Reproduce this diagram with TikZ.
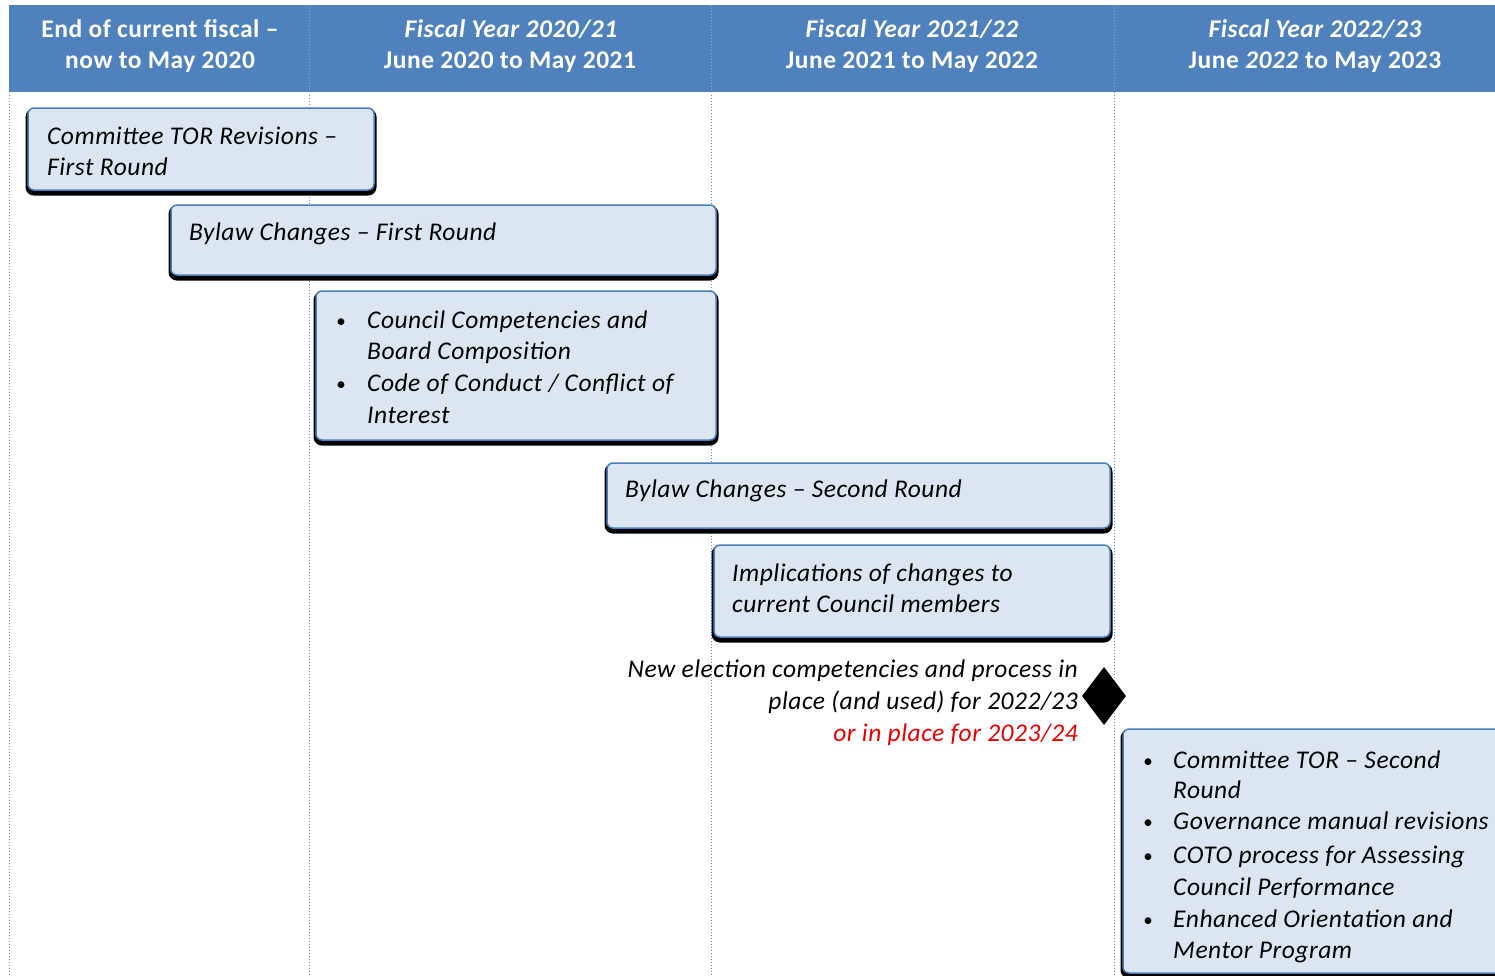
\documentclass[tikz,border=0pt]{standalone}
\usepackage{fontspec}
\setmainfont{Carlito}[LetterSpace=2.0]
\usetikzlibrary{shapes.geometric}
\definecolor{hdrblue}{RGB}{79,129,189}
\definecolor{boxfill}{RGB}{220,230,242}
\definecolor{boxedge}{RGB}{74,126,187}
\definecolor{gridblue}{RGB}{91,140,214}
\definecolor{hdrgrid}{RGB}{140,175,225}
\definecolor{milered}{RGB}{230,0,0}
\newcommand{\bodyfont}{\fontsize{25.5}{30}\selectfont}
\begin{document}
\begin{tikzpicture}[x=1pt,y=-1pt,
  taskbox/.style={draw=boxedge, line width=1.5pt, fill=boxfill, rounded corners=6pt,
    anchor=north west, inner sep=0pt, outer sep=0pt,
    preaction={fill=black, draw=black, line width=5pt, transform canvas={yshift=-3pt}}},
  boxtext/.style={anchor=base west, inner sep=0pt, font=\bodyfont\itshape},
  bulletmark/.style={anchor=base, inner sep=0pt, font=\fontsize{19}{24}\selectfont},
  hdrtext/.style={anchor=base, inner sep=0pt, text=white, font=\bodyfont\bfseries},
  miletext/.style={anchor=base east, inner sep=0pt, font=\bodyfont\itshape},
  gridline/.style={draw=gridblue, line width=1pt, dash pattern=on 1pt off 2pt},
  hdrline/.style={draw=hdrgrid, line width=1pt, dash pattern=on 1pt off 2pt}]
\useasboundingbox (0,0) rectangle (1495,975);
\clip (0,0) rectangle (1495,975);

% column dividers
\coordinate (g0t) at (9,92);    \coordinate (g0b) at (9,975);
\coordinate (g1t) at (309,5);   \coordinate (g1b) at (309,975);
\coordinate (g2t) at (711,5);   \coordinate (g2b) at (711,975);
\coordinate (g3t) at (1114,5);  \coordinate (g3b) at (1114,975);
\draw[gridline] (g0t) -- (g0b);
\draw[gridline] (g1t) -- (g1b);
\draw[gridline] (g2t) -- (g2b);
\draw[gridline] (g3t) -- (g3b);

% header band
\node[fill=hdrblue, anchor=north west, inner sep=0pt, minimum width=1486, minimum height=87] (hdr) at (9,5) {};
\draw[hdrline] (309,5) -- (309,92);
\draw[hdrline] (711,5) -- (711,92);
\draw[hdrline] (1114,5) -- (1114,92);
\draw[draw=white, line width=1pt, dash pattern=on 1pt off 2pt] (hdr.south west) -- (hdr.south east);

\node[hdrtext] (h1a) at (160,37) {End of current fiscal –};
\node[hdrtext] (h1b) at (160,68) {now to May 2020};
\node[hdrtext] (h2a) at (511,37) {\itshape Fiscal Year 2020/21};
\node[hdrtext] (h2b) at (510,68) {June 2020 to May 2021};
\node[hdrtext] (h3a) at (912,37) {\itshape Fiscal Year 2021/22};
\node[hdrtext] (h3b) at (912,68) {June 2021 to May 2022};
\node[hdrtext] (h4a) at (1315,37) {\itshape Fiscal Year 2022/23};
\node[hdrtext] (h4b) at (1315,68) {June \textit{2022} to May 2023};

% task boxes
\node[taskbox, minimum width=346, minimum height=82] (b1) at (28,108) {};
\node[boxtext] (b1a) at (47,144) {Committee TOR Revisions –};
\node[boxtext] (b1b) at (47,175) {First Round};

\node[taskbox, minimum width=545, minimum height=70] (b2) at (171,205) {};
\node[boxtext] (b2a) at (189,240) {Bylaw Changes – First Round};

\node[taskbox, minimum width=400, minimum height=149] (b3) at (316,291) {};
\node[bulletmark] (b3d1) at (341,327) {\textbullet};
\node[boxtext] (b3a) at (367,328) {Council Competencies and};
\node[boxtext] (b3b) at (367,359) {Board Composition};
\node[bulletmark] (b3d2) at (341,390) {\textbullet};
\node[boxtext] (b3c) at (367,391) {Code of Conduct / Conflict of};
\node[boxtext] (b3e) at (367,423) {Interest};

\node[taskbox, minimum width=503, minimum height=65] (b4) at (607,463) {};
\node[boxtext] (b4a) at (625,497) {Bylaw Changes – Second Round};

\node[taskbox, minimum width=396, minimum height=92] (b5) at (714,545) {};
\node[boxtext] (b5a) at (732,581) {Implications of changes to};
\node[boxtext] (b5b) at (732,612) {current Council members};

% milestone
\node[diamond, fill=black, inner sep=0pt, minimum width=44, minimum height=58] (ms) at (1104,696) {};
\node[miletext] (m1) at (1078,677) {New election competencies and process in};
\node[miletext] (m2) at (1078,709) {place (and used) for 2022/23};
\node[miletext, text=milered] (m3) at (1078,741) {or in place for 2023/24};

% final-year box
\node[taskbox, minimum width=400, minimum height=244] (b6) at (1123,729) {};
\node[bulletmark] (b6d1) at (1148,767) {\textbullet};
\node[boxtext] (b6a) at (1173,768) {Committee TOR – Second};
\node[boxtext] (b6b) at (1173,798) {Round};
\node[bulletmark] (b6d2) at (1148,828) {\textbullet};
\node[boxtext] (b6c) at (1173,829) {Governance manual revisions};
\node[bulletmark] (b6d3) at (1148,862) {\textbullet};
\node[boxtext] (b6e) at (1173,863) {COTO process for Assessing};
\node[boxtext] (b6f) at (1173,895) {Council Performance};
\node[bulletmark] (b6d4) at (1148,926) {\textbullet};
\node[boxtext] (b6g) at (1173,927) {Enhanced Orientation and};
\node[boxtext] (b6h) at (1173,958) {Mentor Program};
\end{tikzpicture}
\end{document}
